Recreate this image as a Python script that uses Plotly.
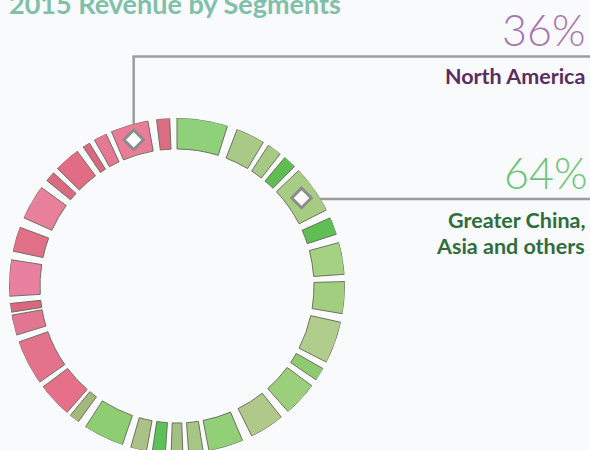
import math
import plotly.graph_objects as go

# ---------------- data ----------------
title_text = "2015 Revenue by Segments"
region_names = ["North America", "Greater China,<br>Asia and others"]
region_share = ["36%", "64%"]

# ring segments: start / end angle (degrees, clockwise from 12 o'clock)
seg_start = [0, 21, 33, 40, 46.5, 66, 75, 88.5, 102.5, 119.5, 126.5, 141.5, 157, 171, 178,
             184, 190.5, 199, 216,
             221, 235, 253, 261, 266.5, 282, 294, 309, 314.5, 326, 330.5, 337, 353]
seg_end = [17.5, 31, 38, 44.5, 63, 72, 86, 99.5, 117, 124, 138.5, 153.5, 169, 176, 182,
           188.5, 196, 213, 219.5,
           233, 250.5, 260, 264, 279, 290.5, 306, 312.5, 323.5, 328.5, 335, 350, 357.5]
seg_region = ["Greater China, Asia and others"] * 19 + ["North America"] * 13

# angle of the marked segment for each callout (mid of a segment)
marker_angle = [343.5, 54.75]

# ---------------- style ----------------
seg_colors = ['#8fd17a', '#a9ca86', '#a6c983', '#5fbd52', '#a6cd83', '#5fbf55', '#a4d182',
              '#a2cf7f', '#b1cd8c', '#8ecb70', '#9bcf7c', '#b0c98a', '#93cf77', '#a6c686',
              '#a3bf84', '#5cc15b', '#aac286', '#8fcd72', '#a3b97c',
              '#e6708a', '#e3738d', '#e27592', '#d9687f', '#e97fa1', '#e06f87', '#e8809c',
              '#d96a82', '#e36c85', '#d9687f', '#e67895', '#e97d98', '#dc6b84']
W, H = 590, 456            # figure slightly taller than the window: ring is cut at the bottom
CX, CY = 177, 286          # ring centre, pixels from top-left
R_OUT, R_IN = 168, 137     # ring radii in pixels
BG = '#f8fafc'
LINE = '#9c9c9c'

theta = [(a + b) / 2 for a, b in zip(seg_start, seg_end)]
width = [b - a for a, b in zip(seg_start, seg_end)]

fig = go.Figure()
fig.add_trace(go.Barpolar(
    theta=theta, width=width,
    base=[R_IN] * len(theta), r=[R_OUT - R_IN] * len(theta),
    marker=dict(color=seg_colors, line=dict(color='#6f705f', width=1)),
    customdata=seg_region, hovertemplate='%{customdata}<extra></extra>',
    showlegend=False,
))
rm = (R_OUT + R_IN) / 2
fig.add_trace(go.Scatterpolar(
    theta=marker_angle, r=[rm] * len(marker_angle), mode='markers',
    marker=dict(symbol='diamond', size=15, color='white', line=dict(color='#8c8c8c', width=3)),
    hoverinfo='skip', showlegend=False,
))


def px(angle, r):
    a = math.radians(angle)
    return CX + r * math.sin(a), CY - r * math.cos(a)


def to_paper(x, y):
    return x / W, 1 - y / H


def seg_line(p, q):
    a, b = to_paper(*p), to_paper(*q)
    return dict(type='line', xref='paper', yref='paper', x0=a[0], y0=a[1], x1=b[0], y1=b[1],
                line=dict(color=LINE, width=2.5), layer='below')


shapes = []
# callout 1 (North America): up, then right
x1, y1 = px(marker_angle[0], rm)
top_y = 56.5
shapes.append(seg_line((x1, y1 - 8), (x1, top_y)))
shapes.append(seg_line((x1 - 1.2, top_y), (590, top_y)))
# callout 2 (Greater China ...): right
x2, y2 = px(marker_angle[1], rm)
shapes.append(seg_line((x2 + 8, y2 + 1), (590, y2 + 1)))


def ann(text, x, y, size, color, weight, anchor='right'):
    xp, yp = to_paper(x, y)
    return dict(text=text, x=xp, y=yp, xref='paper', yref='paper', xanchor=anchor, yanchor='middle',
                showarrow=False, align=anchor,
                font=dict(family='Lato', size=size, color=color, weight=weight))


name2 = region_names[1].split('<br>')
annotations = [
    ann(title_text, 7, 3.5, 27, '#80bfa9', 'bold', anchor='left'),
    ann(region_share[0], 587, 29, 43, '#a874b0', 300),
    ann(region_names[0], 587, 76, 21.5, '#5b2c5f', 'bold'),
    ann(region_share[1], 589, 172, 43, '#6dc477', 300),
    ann(name2[0], 587, 220, 21.5, '#2f6d3c', 'bold'),
    ann(name2[1], 587, 245.5, 21.5, '#2f6d3c', 'bold'),
]

fig.update_layout(
    width=W, height=H, margin=dict(l=0, r=0, t=0, b=0),
    paper_bgcolor=BG, plot_bgcolor=BG,
    polar=dict(
        domain=dict(x=[(CX - R_OUT) / W, (CX + R_OUT) / W],
                    y=[(H - CY - R_OUT) / H, (H - CY + R_OUT) / H]),
        bgcolor='rgba(0,0,0,0)', hole=0,
        radialaxis=dict(range=[0, R_OUT], visible=False),
        angularaxis=dict(rotation=90, direction='clockwise', visible=False),
    ),
    shapes=shapes, annotations=annotations,
)
fig.write_html("out.html", config={'displayModeBar': False},
               post_script="document.body.style.margin='0px';")
